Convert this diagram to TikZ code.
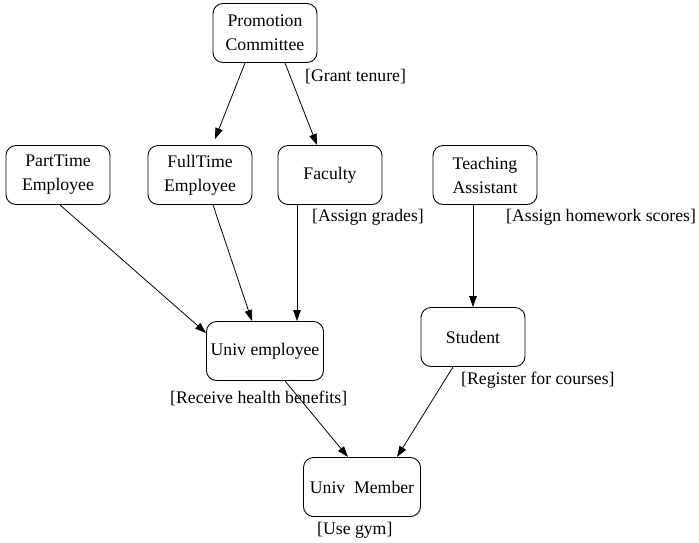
\documentclass[tikz,border=0pt]{standalone}
\usepackage{fontspec}
\setmainfont{Liberation Serif}
\usetikzlibrary{arrows.meta}
\begin{document}
\begin{tikzpicture}[x=1pt,y=-1pt,
  every node/.style={font=\fontsize{17.7}{24}\selectfont},
  box/.style={draw, line width=0.9pt, rounded corners=10pt, minimum width=104pt,
    minimum height=59pt, inner sep=0pt, align=center},
  widebox/.style={box, minimum width=117pt},
  lbl/.style={anchor=west, inner sep=0pt},
  arr/.style={line width=0.8pt, -{Triangle[length=11pt,width=7.5pt]}}]
\useasboundingbox (0,0) rectangle (699,542);

% classes
\node[box] (pc) at (265,33) {Promotion\\Committee};
\node[box] (pt) at (58,175) {PartTime\\Employee};
\node[box] (ft) at (200,175) {FullTime\\Employee};
\node[box] (fac) at (330,175) {Faculty};
\node[box] (ta) at (485,175) {Teaching\\Assistant};
\node[box] (st) at (473,337) {Student};
\node[widebox] (ue) at (265,351) {Univ employee};
\node[widebox] (um) at (362,487) {Univ\ \ Member};

% permissions
\node[lbl] (l1) at (305,77) {[Grant tenure]};
\node[lbl] (l2) at (312,217) {[Assign grades]};
\node[lbl] (l3) at (506,217) {[Assign homework scores]};
\node[lbl] (l4) at (461,380) {[Register for courses]};
\node[lbl] (l5) at (170,398) {[Receive health benefits]};
\node[lbl] (l6) at (317,530) {[Use gym]};

% inheritance edges
\draw[arr] ([xshift=-20pt]pc.south) -- ([xshift=15pt,yshift=6pt]ft.north);
\draw[arr] ([xshift=20pt]pc.south) -- ([xshift=-13pt]fac.north);
\draw[arr] ([xshift=2pt]pt.south) -- ([yshift=18pt]ue.west);
\draw[arr] ([xshift=13pt]ft.south) -- ([xshift=-13pt]ue.north);
\draw[arr] ([xshift=-33pt]fac.south) -- ([xshift=32pt]ue.north);
\draw[arr] ([xshift=-12pt]ta.south) -- (st.north);
\draw[arr] ([xshift=20pt]ue.south) -- ([xshift=-14pt]um.north);
\draw[arr] ([xshift=-20pt]st.south) -- ([xshift=35pt]um.north);
\end{tikzpicture}
\end{document}
